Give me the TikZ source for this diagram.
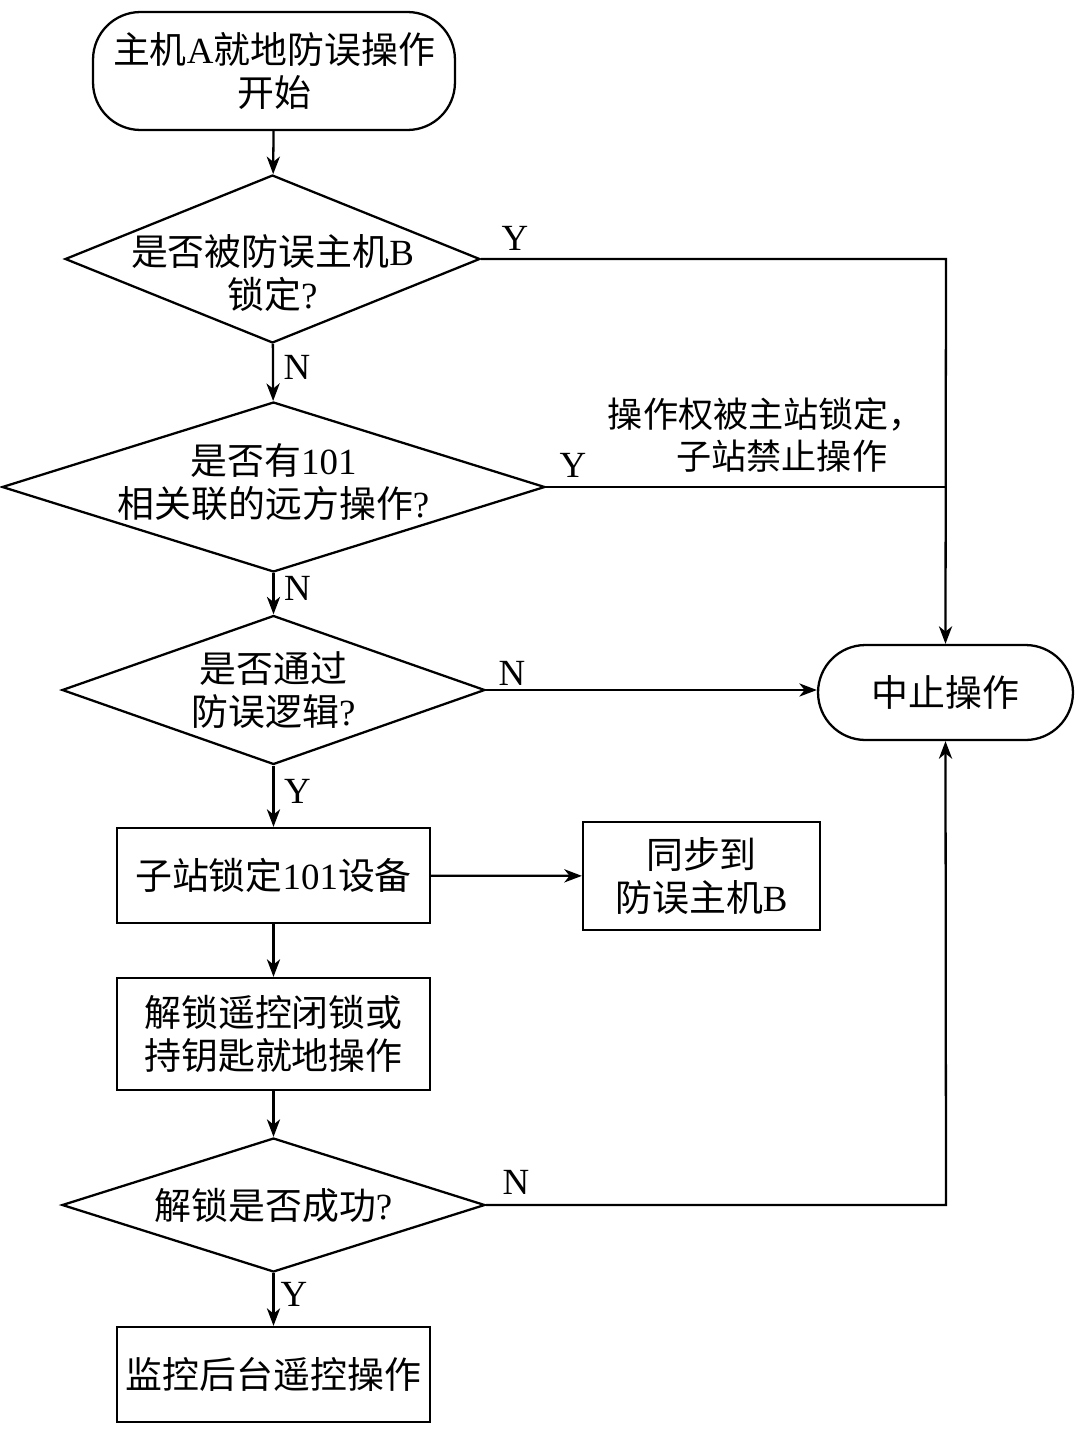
\documentclass[tikz,border=0pt]{standalone}
\usepackage{fontspec}
\setmainfont{Liberation Serif}
\newfontfamily\cjk{Noto Sans CJK SC}
\usetikzlibrary{shapes.geometric}
\usetikzlibrary{arrows.meta}
\newcommand\lat[1]{{\rmfamily #1}}

\begin{document}
\begin{tikzpicture}[x=0.02cm,y=-0.02cm,
  line width=1.3pt,
  every node/.style={font=\cjk\fontsize{21}{24.5}\selectfont, align=center},
  proc/.style={draw, rectangle, inner sep=0pt},
  term/.style={draw, rectangle, rounded corners=0.95cm, inner sep=0pt},
  decide/.style={draw, diamond, inner sep=0pt, aspect=2.5},
  flow/.style={-{Stealth[length=10pt,width=7.5pt,inset=3pt]}},
  yn/.style={font=\rmfamily\fontsize{21}{24.5}\selectfont}]

\useasboundingbox (0,0) rectangle (1080,1434);

\node[term, minimum width=7.24cm, minimum height=2.36cm] (start) at (274,71) {主机\lat{A}就地防误操作\\开始};
\node[decide, minimum width=8.3cm, minimum height=3.36cm, label={[yshift=-8pt]center:{是否被防误主机\lat{B}\\锁定\lat{?}}}] (lockB) at (272.5,259) {};
\node[decide, minimum width=10.86cm, minimum height=3.4cm, label={[yshift=3pt]center:{是否有\lat{101}\\相关联的远方操作\lat{?}}}] (remote) at (273.5,487) {};
\node[decide, minimum width=8.46cm, minimum height=2.98cm, label=center:{是否通过\\防误逻辑\lat{?}}] (logic) at (273.5,690) {};
\node[proc, minimum width=6.26cm, minimum height=1.9cm] (lock101) at (273.5,875.5) {子站锁定\lat{101}设备};
\node[proc, minimum width=4.74cm, minimum height=2.16cm] (sync) at (701.5,876) {同步到\\防误主机\lat{B}};
\node[proc, minimum width=6.26cm, minimum height=2.24cm] (unlock) at (273.5,1034) {解锁遥控闭锁或\\持钥匙就地操作};
\node[decide, minimum width=8.46cm, minimum height=2.68cm, label=center:{解锁是否成功\lat{?}}] (ok) at (273.5,1205) {};
\node[proc, minimum width=6.26cm, minimum height=1.9cm] (remoteop) at (273.5,1374.5) {监控后台遥控操作};
\node[term, minimum width=5.1cm, minimum height=1.9cm] (stop) at (945.5,692.5) {中止操作};

\coordinate (c1) at (946,259);
\coordinate (c2) at (946,487);
\coordinate (c4) at (946,1205);

\draw[flow] (start) -- (lockB);
\draw[flow] (lockB) -- (remote) node[yn, right, midway, xshift=2pt, yshift=3pt] {N};
\draw[flow] (remote) -- (logic) node[yn, right, midway, xshift=2pt, yshift=3pt] {N};
\draw[flow] (logic) -- (lock101) node[yn, right, midway, xshift=2pt, yshift=3pt] {Y};
\draw[flow] (lock101) -- (unlock);
\draw[flow] (unlock) -- (ok);
\draw[flow] (ok) -- (remoteop) node[yn, right, midway, xshift=0pt, yshift=3pt] {Y};
\draw[flow] (lock101) -- (sync);

\draw[flow] (lockB.east) -- (c1) -- (stop.north);
\draw (remote.east) -- (c2);
\draw[flow] (logic.east) -- (logic.east -| stop.west);
\draw[flow] (ok.east) -- (c4) -- (stop.south);

\node[yn] (y1) at (515,238) {Y};
\node[yn] (y2) at (573,465) {Y};
\node[yn] (n3) at (512,673) {N};
\node[yn] (n4) at (516,1182) {N};
\node[font=\cjk\fontsize{20}{23.5}\selectfont] (note) at (766,435) {操作权被主站锁定，\\\hspace*{0.9em}子站禁止操作};

\end{tikzpicture}
\end{document}
